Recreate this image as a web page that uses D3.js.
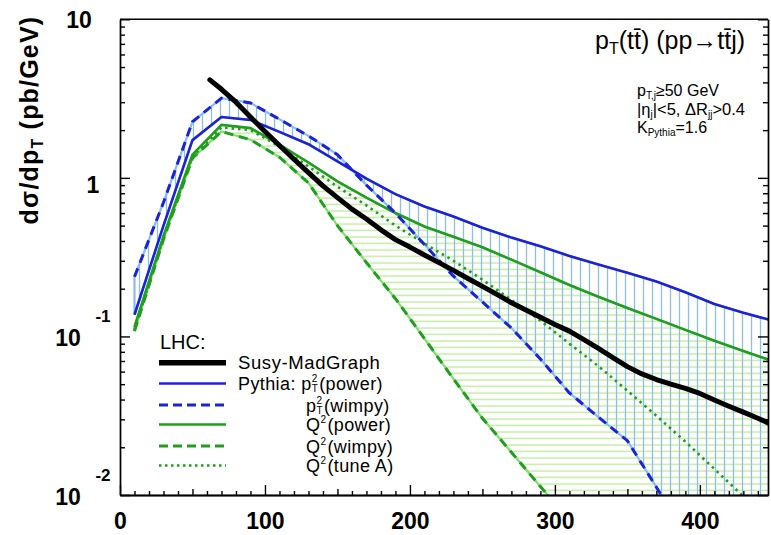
<!DOCTYPE html>
<html>
<head>
<meta charset="utf-8">
<script src="https://cdn.jsdelivr.net/npm/d3@7"></script>
<style>
body { margin: 0; background: #fff; }
svg { display: block; font-family: "Liberation Sans", Arial, sans-serif; }
</style>
</head>
<body>
<svg id="chart" width="771" height="535"></svg>
<script>
// pT bins of the Pythia curves (GeV)
var ptGrid = [10, 30, 50, 70, 90, 110, 130, 150, 170, 190, 210, 230, 250, 270, 290, 310, 330, 350, 370, 390, 410, 430, 450];
// Pythia pT^2 (power)
var pt2Power = [0.137, 0.50, 1.73, 2.42, 2.32, 1.95, 1.63, 1.27, 0.99, 0.79, 0.66, 0.57, 0.485, 0.42, 0.37, 0.322, 0.284, 0.252, 0.222, 0.19, 0.16, 0.141, 0.126];
// Pythia pT^2 (wimpy)
var pt2Wimpy = [0.238, 0.70, 2.26, 3.18, 2.97, 2.34, 1.84, 1.40, 0.90, 0.60, 0.38, 0.24, 0.165, 0.113, 0.072, 0.044, 0.031, 0.022, 0.0112, 0.0056, 0.0035, 0.0025, 0.0018];
// Pythia Q^2 (power)
var q2Power = [0.115, 0.43, 1.40, 2.16, 2.06, 1.62, 1.25, 0.95, 0.75, 0.60, 0.494, 0.425, 0.365, 0.305, 0.254, 0.211, 0.178, 0.151, 0.129, 0.110, 0.094, 0.081, 0.070];
// Pythia Q^2 (wimpy)
var q2Wimpy = [0.108, 0.41, 1.33, 1.96, 1.74, 1.35, 0.93, 0.50, 0.292, 0.173, 0.097, 0.054, 0.0305, 0.0186, 0.0113, 0.0070, 0.0045, 0.0030, 0.0020, 0.0014, 0.0010, 0.0007, 0.0005];
// Pythia Q^2 (tune A)
var q2TuneA = [0.11, 0.42, 1.36, 2.08, 2.0, 1.58, 1.18, 0.88, 0.67, 0.50, 0.385, 0.30, 0.228, 0.170, 0.126, 0.090, 0.065, 0.0455, 0.0316, 0.0217, 0.0146, 0.0098, 0.0065];
// Susy-MadGraph
var mgPt = [62, 70, 80, 90, 100, 110, 120, 130, 140, 150, 160, 170, 180, 190, 200, 210, 220, 230, 240, 250, 260, 270, 280, 290, 300, 310, 320, 330, 340, 350, 360, 370, 380, 390, 400, 410, 420, 430, 440, 447];
var mgXsec = [4.15, 3.62, 3.0, 2.42, 1.96, 1.60, 1.31, 1.08, 0.89, 0.75, 0.635, 0.55, 0.47, 0.408, 0.366, 0.326, 0.292, 0.261, 0.232, 0.207, 0.184, 0.163, 0.147, 0.132, 0.119, 0.108, 0.0954, 0.084, 0.0735, 0.0645, 0.058, 0.0535, 0.050, 0.047, 0.0437, 0.0397, 0.0363, 0.0333, 0.0305, 0.0285];

var xTicks = [0, 100, 200, 300, 400];
var yTicks = [10, 1, 0.1, 0.01];
var yTickExp = ["", "", "-1", "-2"];

var svg = d3.select("#chart");
var pL = 120, pR = 768, pT = 19.3, pB = 495;

var x = d3.scaleLinear().domain([0, 447]).range([pL, pR]);
var y = d3.scaleLog().domain([0.01, 10]).range([pB, pT]);

var blue = "#1c22d6", green = "#1f9e1f";

var defs = svg.append("defs");
defs.append("clipPath").attr("id", "plot")
  .append("rect").attr("x", pL).attr("y", pT).attr("width", pR - pL).attr("height", pB - pT);

var vp = defs.append("pattern").attr("id", "vhatch").attr("patternUnits", "userSpaceOnUse")
  .attr("width", 9).attr("height", 10);
vp.append("line").attr("x1", 4.5).attr("x2", 4.5).attr("y1", 0).attr("y2", 10)
  .attr("stroke", "#8dbde8").attr("stroke-width", 1.3);
var hp = defs.append("pattern").attr("id", "hhatch").attr("patternUnits", "userSpaceOnUse")
  .attr("width", 10).attr("height", 6.5);
hp.append("line").attr("x1", 0).attr("x2", 10).attr("y1", 3).attr("y2", 3)
  .attr("stroke", "#c4eca4").attr("stroke-width", 1.5);

var plot = svg.append("g").attr("clip-path", "url(#plot)");

function pts(a, b) { return a.map(function(v, i) { return [v, b[i]]; }); }
function band(lo, hi) { return ptGrid.map(function(p, i) { return [p, lo[i], hi[i]]; }); }

var area = d3.area()
  .x(function(d) { return x(d[0]); })
  .y0(function(d) { return y(d[1]); })
  .y1(function(d) { return y(d[2]); });

var line = d3.line()
  .x(function(d) { return x(d[0]); })
  .y(function(d) { return y(d[1]); });

// bands
plot.append("path").attr("d", area(band(q2Wimpy, q2Power)))
  .attr("fill", "url(#hhatch)").attr("stroke", "#86dc70").attr("stroke-width", 2.2);
plot.append("path").attr("d", area(band(pt2Wimpy, pt2Power)))
  .attr("fill", "url(#vhatch)").attr("stroke", "#86bdf0").attr("stroke-width", 2.2);

// curves
var curves = [
  { v: q2TuneA, c: green, w: 2.6, dash: "2.5,4" },
  { v: q2Wimpy, c: green, w: 3, dash: "9,6" },
  { v: q2Power, c: green, w: 2.6, dash: null },
  { v: pt2Wimpy, c: blue, w: 3, dash: "9,6" },
  { v: pt2Power, c: blue, w: 2.6, dash: null }
];
curves.forEach(function(s) {
  plot.append("path").attr("d", line(pts(ptGrid, s.v)))
    .attr("fill", "none").attr("stroke", s.c).attr("stroke-width", s.w)
    .attr("stroke-dasharray", s.dash);
});
plot.append("path").attr("d", line(pts(mgPt, mgXsec)))
  .attr("fill", "none").attr("stroke", "#000").attr("stroke-width", 5)
  .attr("stroke-linejoin", "round").attr("stroke-linecap", "round");

// axes
var minorY = [];
[0.01, 0.1, 1].forEach(function(dec) {
  for (var k = 2; k <= 9; k++) minorY.push(k * dec);
});
function styleAxis(g) {
  g.selectAll("path, line").attr("stroke", "#000").attr("stroke-width", 1.4);
  g.selectAll("text").remove();
}
svg.append("g").attr("transform", "translate(" + pL + ",0)")
  .call(d3.axisLeft(y).tickValues(minorY).tickSize(-5).tickSizeOuter(0)).call(styleAxis);
svg.append("g").attr("transform", "translate(" + pL + ",0)")
  .call(d3.axisLeft(y).tickValues(yTicks).tickSize(-10).tickSizeOuter(0)).call(styleAxis);
svg.append("g").attr("transform", "translate(" + pR + ",0)")
  .call(d3.axisRight(y).tickValues(minorY).tickSize(-5).tickSizeOuter(0)).call(styleAxis);
svg.append("g").attr("transform", "translate(" + pR + ",0)")
  .call(d3.axisRight(y).tickValues(yTicks).tickSize(-10).tickSizeOuter(0)).call(styleAxis);

var minorX = d3.range(10, 447, 10).filter(function(v) { return v % 50 !== 0; });
var midX = [50, 150, 250, 350];
svg.append("g").attr("transform", "translate(0," + pB + ")")
  .call(d3.axisBottom(x).tickValues(minorX).tickSize(-4).tickSizeOuter(0)).call(styleAxis);
svg.append("g").attr("transform", "translate(0," + pB + ")")
  .call(d3.axisBottom(x).tickValues(midX).tickSize(-6).tickSizeOuter(0)).call(styleAxis);
var xAxis = svg.append("g").attr("transform", "translate(0," + pB + ")")
  .call(d3.axisBottom(x).tickValues(xTicks).tickSize(-10).tickSizeOuter(0).tickPadding(18));
xAxis.selectAll("path, line").attr("stroke", "#000").attr("stroke-width", 1.4);
xAxis.selectAll("text").attr("font-size", 23).attr("font-weight", "bold")
  .attr("font-family", "Liberation Sans, Arial, sans-serif").attr("fill", "#000");

svg.append("line").attr("x1", pL).attr("x2", pR).attr("y1", pT).attr("y2", pT)
  .attr("stroke", "#000").attr("stroke-width", 1.4);

// y tick labels
yTicks.forEach(function(v, i) {
  var base = (v === 1) ? "1" : "10";
  var cx = (v === 1) ? 93 : (v === 10 ? 79 : 68);
  var cy = y(v) + (v === 1 ? 7 : (v === 10 ? 1 : 2));
  svg.append("text").attr("x", cx).attr("y", cy + 8).attr("text-anchor", "middle")
    .attr("font-size", 23).attr("font-weight", "bold").text(base);
  if (yTickExp[i]) {
    svg.append("text").attr("x", 103).attr("y", cy - 16).attr("text-anchor", "middle")
      .attr("font-size", 17).attr("font-weight", "bold").text(yTickExp[i]);
  }
});

// y axis title
var yt = svg.append("text").attr("transform", "translate(38,120) rotate(-90)")
  .attr("text-anchor", "middle").attr("font-size", 25).attr("font-weight", "bold")
  .attr("letter-spacing", 1.2);
yt.append("tspan").text("d\u03c3/dp");
yt.append("tspan").attr("font-size", 16).attr("dy", 5).text("T");
yt.append("tspan").attr("dy", -5).text(" (pb/GeV)");

// annotation
var t1 = svg.append("text").attr("x", 595).attr("y", 49).attr("font-size", 25);
t1.append("tspan").text("p");
t1.append("tspan").attr("font-size", 16).attr("dy", 5).text("T");
t1.append("tspan").attr("dy", -5).text("(tt\u0304) (pp\u2192tt\u0304j)");

var t2 = svg.append("text").attr("x", 637).attr("y", 96).attr("font-size", 16);
t2.append("tspan").text("p");
t2.append("tspan").attr("font-size", 10).attr("dy", 3).text("T,j");
t2.append("tspan").attr("dy", -3).text("\u226550 GeV");

var t3 = svg.append("text").attr("x", 637).attr("y", 115).attr("font-size", 16.5);
t3.append("tspan").text("|\u03b7");
t3.append("tspan").attr("font-size", 10).attr("dy", 3).text("j");
t3.append("tspan").attr("dy", -3).text("|<5, \u0394R");
t3.append("tspan").attr("font-size", 10).attr("dy", 3).text("jj");
t3.append("tspan").attr("dy", -3).text(">0.4");

var t4 = svg.append("text").attr("x", 637).attr("y", 133).attr("font-size", 16);
t4.append("tspan").text("K");
t4.append("tspan").attr("font-size", 10).attr("dy", 3).text("Pythia");
t4.append("tspan").attr("dy", -3).text("=1.6");

// legend
var leg = svg.append("g");
leg.append("text").attr("x", 160).attr("y", 349).attr("font-size", 20).text("LHC:");
var legRows = [
  { y: 362.7, c: "#000", w: 5.5, dash: null, lab: "Susy-MadGraph", sym: null, pre: null },
  { y: 383.5, c: blue, w: 2.6, dash: null, lab: "(power)", sym: "p", pre: "Pythia:" },
  { y: 405, c: blue, w: 3, dash: "9,5", lab: "(wimpy)", sym: "p", pre: null },
  { y: 424.5, c: green, w: 2.6, dash: null, lab: "(power)", sym: "Q", pre: null },
  { y: 446, c: green, w: 3, dash: "9,5", lab: "(wimpy)", sym: "Q", pre: null },
  { y: 465.5, c: green, w: 2.6, dash: "2.5,3.5", lab: "(tune A)", sym: "Q", pre: null }
];
legRows.forEach(function(r) {
  leg.append("line").attr("x1", 159).attr("x2", 226).attr("y1", r.y).attr("y2", r.y)
    .attr("stroke", r.c).attr("stroke-width", r.w).attr("stroke-dasharray", r.dash);
  var by = r.y + 6.5;
  if (!r.sym) {
    leg.append("text").attr("x", 238).attr("y", by).attr("font-size", 18.5)
      .attr("letter-spacing", 0.6).text(r.lab);
    return;
  }
  var t = leg.append("text").attr("x", r.pre ? 238 : 306).attr("y", by).attr("font-size", 18)
    .attr("letter-spacing", 0.4);
  if (r.pre) t.append("tspan").text(r.pre + " ");
  t.append("tspan").text(r.sym);
  if (r.sym === "p") {
    t.append("tspan").attr("font-size", 10).attr("dy", -8).text("2");
    t.append("tspan").attr("font-size", 10).attr("dx", -6).attr("dy", 10).text("T");
    t.append("tspan").attr("dy", -2).attr("dx", 1).text(r.lab);
  } else {
    t.append("tspan").attr("font-size", 10).attr("dy", -8).text("2");
    t.append("tspan").attr("dy", 8).attr("dx", 1).text(r.lab);
  }
});
</script>
</body>
</html>
